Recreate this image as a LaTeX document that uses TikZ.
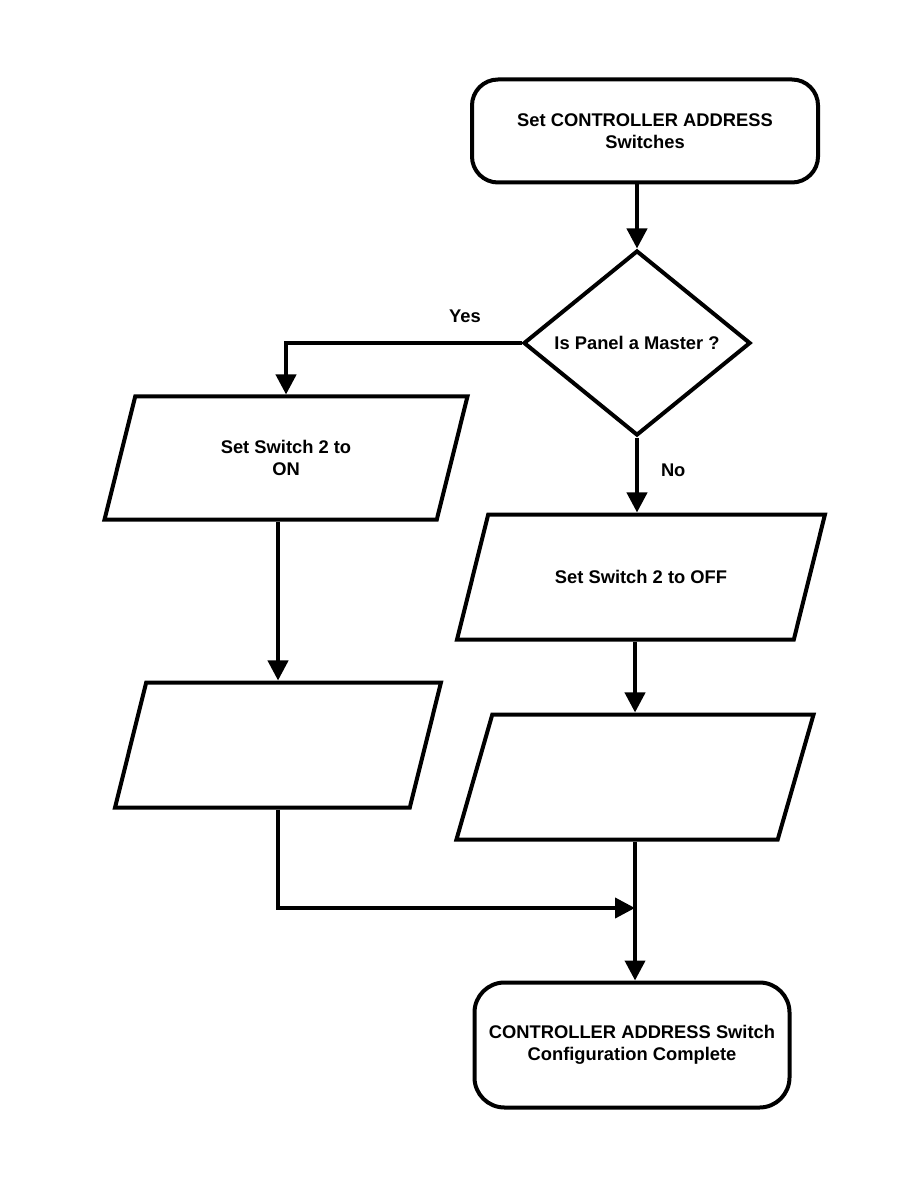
\documentclass[tikz,border=0pt]{standalone}
\usepackage{fontspec}
\setmainfont{Liberation Sans}
\usetikzlibrary{shapes.geometric, arrows.meta}
\tikzset{
    term/.style={rectangle, rounded corners=13bp, draw=black, line width=2bp, fill=white, align=center, font=\bfseries\fontsize{9.2}{11}\selectfont, inner sep=0pt},
    decision/.style={diamond, draw=black, line width=2bp, fill=white, aspect=1.227, minimum width=113.5bp, minimum height=92.5bp, inner sep=0pt, align=center, font=\bfseries\fontsize{9.2}{11}\selectfont},
    io/.style={trapezium, trapezium left angle=76, trapezium right angle=104, draw=black, line width=2bp, fill=white, inner sep=0pt, font=\bfseries\fontsize{9.2}{11}\selectfont},
    arrow/.style={line width=2bp, -{Triangle[length=10bp, width=10bp]}},
    tag/.style={inner sep=0pt, font=\bfseries\fontsize{9.2}{11}\selectfont}
}
% body of a parallelogram: width, height, text
\newcommand{\iobody}[3]{\parbox[c][#2][c]{#1}{\centering\leavevmode #3\par}}

\begin{document}
\begin{tikzpicture}[x=0.5bp, y=-0.5bp]
    \useasboundingbox (0,0) rectangle (918,1188);

    \node (start) [term, minimum width=173bp, minimum height=51.5bp] at (645,131) {Set CONTROLLER ADDRESS\\Switches};
    \node (master) [decision] at (637,343) {Is Panel a Master ?};

    \node (set_on) [io] at (286,458) {\iobody{150.8bp}{61.5bp}{Set Switch 2 to\\ON}};
    \node (set_off) [io] at (641,577) {\iobody{152.8bp}{62.5bp}{Set Switch 2 to OFF}};

    \node (left_blank) [io] at (278,745) {\iobody{131.8bp}{62.5bp}{}};
    \node (right_blank) [io, trapezium left angle=74, trapezium right angle=106] at (635,777) {\iobody{142.7bp}{62.5bp}{}};

    \node (done) [term, rounded corners=15bp, minimum width=157.5bp, minimum height=62.5bp] at (632,1045) {CONTROLLER ADDRESS Switch\\Configuration Complete};

    \coordinate (join) at (635,908);

    \draw [arrow] (start.south -| master.north) -- (master.north);
    \draw [arrow] (master.west) -| (set_on.north) node [tag, pos=0.12, above=9bp] {Yes};
    \draw [arrow] (master.south) -- (master.south |- set_off.north) node [tag, pos=0.44, right=11bp] {No};
    \draw [arrow] (set_on.south -| left_blank.north) -- (left_blank.north);
    \draw [arrow] (set_off.south -| right_blank.north) -- (right_blank.north);
    \draw [arrow] (left_blank.south) |- (join);
    \draw [arrow] (right_blank.south) -- (right_blank.south |- done.north);
\end{tikzpicture}
\end{document}
